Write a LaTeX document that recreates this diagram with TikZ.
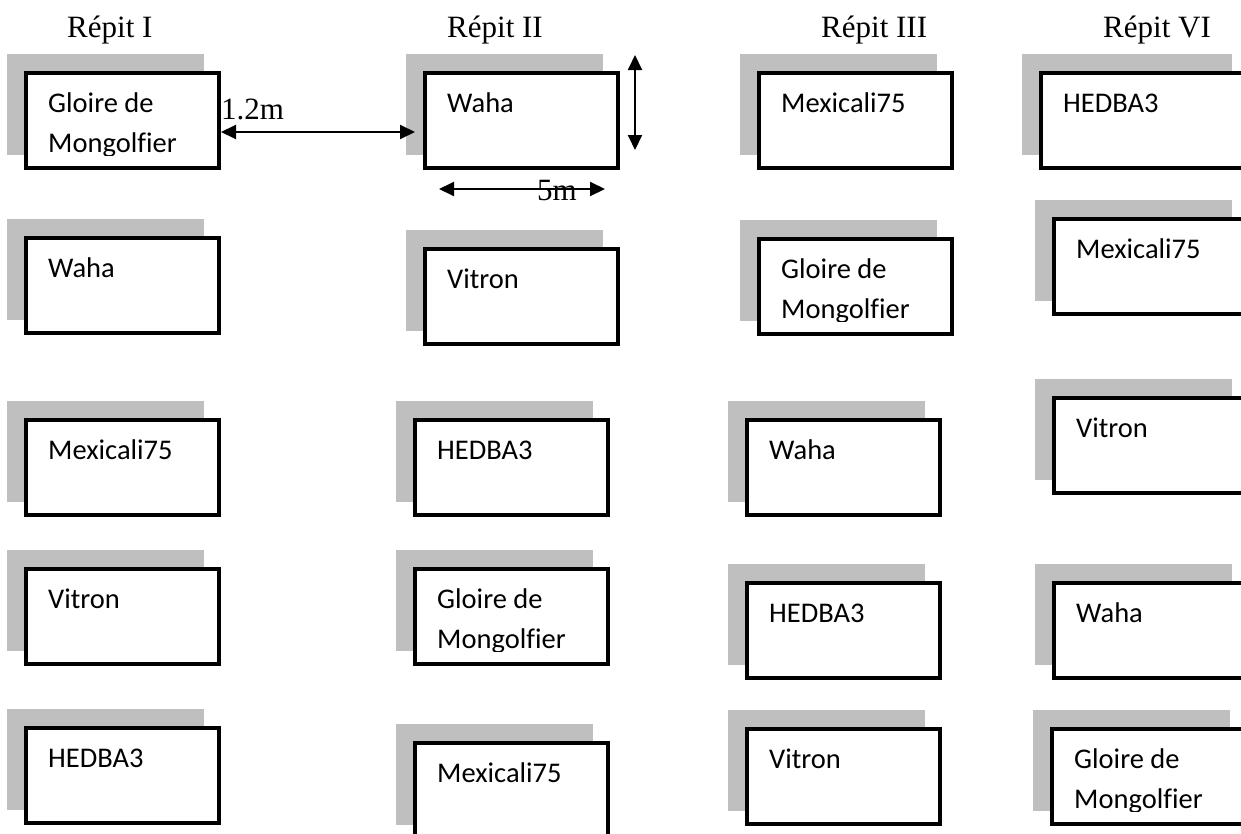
\documentclass[tikz,border=0pt]{standalone}
\usepackage{fontspec}
\setmainfont{Liberation Serif}
\newfontfamily\calfont[Ligatures=NoCommon]{Carlito}
\usetikzlibrary{arrows.meta}
\definecolor{shadowgray}{HTML}{BFBFBF}
\tikzset{
  parcel/.style={draw=black, line width=4pt, fill=white, minimum height=95pt, inner sep=0pt, anchor=north west},
  vt/.style={font=\calfont\fontsize{28.5}{34}\selectfont, inner sep=0pt, anchor=base west},
  title/.style={font=\fontsize{31}{37}\selectfont, inner sep=0pt, anchor=base west},
  dim/.style={line width=2pt, {Triangle[length=15pt,width=14pt]}-{Triangle[length=15pt,width=14pt]}}
}
% #1 width, #2 name, #3 left, #4 top, #5 first line, #6 second line
\newcommand{\parcelle}[6][197]{%
  \fill[shadowgray] (#3-17,#4-17) rectangle (#3+#1-17,#4+84);
  \node[parcel, minimum width=#1pt-4pt] (#2) at (#3,#4) {};
  \begin{scope}
    \clip (#3+4,#4+4) rectangle (#3+#1-4,#4+84);
    \node[vt] (#2a) at (#3+24,#4+41) {#5};
    \node[vt] (#2b) at (#3+24,#4+81) {#6};
  \end{scope}
}
\begin{document}
\begin{tikzpicture}[x=1pt,y=-1pt]
\useasboundingbox (0,0) rectangle (1241,833);
\clip (0,0) rectangle (1241,833);
\fill[white] (0,0) rectangle (1241,833);
% titles
\node[title] (t1) at (67,37) {Répit I};
\node[title] (t2) at (447,37) {Répit II};
\node[title] (t3) at (821,37) {Répit III};
\node[title] (t4) at (1103,37) {Répit VI};
% row 1
\parcelle{b11}{24}{71}{Gloire de}{Mongolfier}
\parcelle{b12}{423}{71}{Waha}{}
\parcelle{b13}{757}{71}{Mexicali75}{}
\parcelle[210]{b14}{1039}{71}{HEDBA3}{}
% row 2
\parcelle{b21}{24}{236}{Waha}{}
\parcelle{b22}{423}{247}{Vitron}{}
\parcelle{b23}{757}{237}{Gloire de}{Mongolfier}
\parcelle{b24}{1052}{217}{Mexicali75}{}
% row 3
\parcelle{b31}{24}{418}{Mexicali75}{}
\parcelle{b32}{413}{418}{HEDBA3}{}
\parcelle{b33}{745}{418}{Waha}{}
\parcelle{b34}{1052}{396}{Vitron}{}
% row 4
\parcelle{b41}{24}{567}{Vitron}{}
\parcelle{b42}{413}{567}{Gloire de}{Mongolfier}
\parcelle{b43}{745}{581}{HEDBA3}{}
\parcelle{b44}{1052}{581}{Waha}{}
% row 5
\parcelle{b51}{24}{726}{HEDBA3}{}
\parcelle{b52}{413}{741}{Mexicali75}{}
\parcelle{b53}{745}{727}{Vitron}{}
\parcelle{b54}{1050}{727}{Gloire de}{Mongolfier}
% dimensions
\coordinate (d1a) at ([yshift=-61pt]b11.north east);
\coordinate (d1b) at ([xshift=-8pt,yshift=-61pt]b12.north west);
\draw[dim] (d1a) -- (d1b);
\node[title] (l12) at ([yshift=-48pt]b11.north east) {1.2m};
\coordinate (d2a) at ([xshift=15pt,yshift=16pt]b12.north east);
\coordinate (d2b) at ([xshift=15pt,yshift=-79pt]b12.north east);
\draw[dim] (d2a) -- (d2b);
\coordinate (d3a) at ([xshift=16pt,yshift=-19pt]b12.south west);
\coordinate (d3b) at ([xshift=-15pt,yshift=-19pt]b12.south east);
\draw[dim] (d3a) -- (d3b);
\node[title] (l5) at ([xshift=114pt,yshift=-30pt]b12.south west) {5m};
\end{tikzpicture}
\end{document}
